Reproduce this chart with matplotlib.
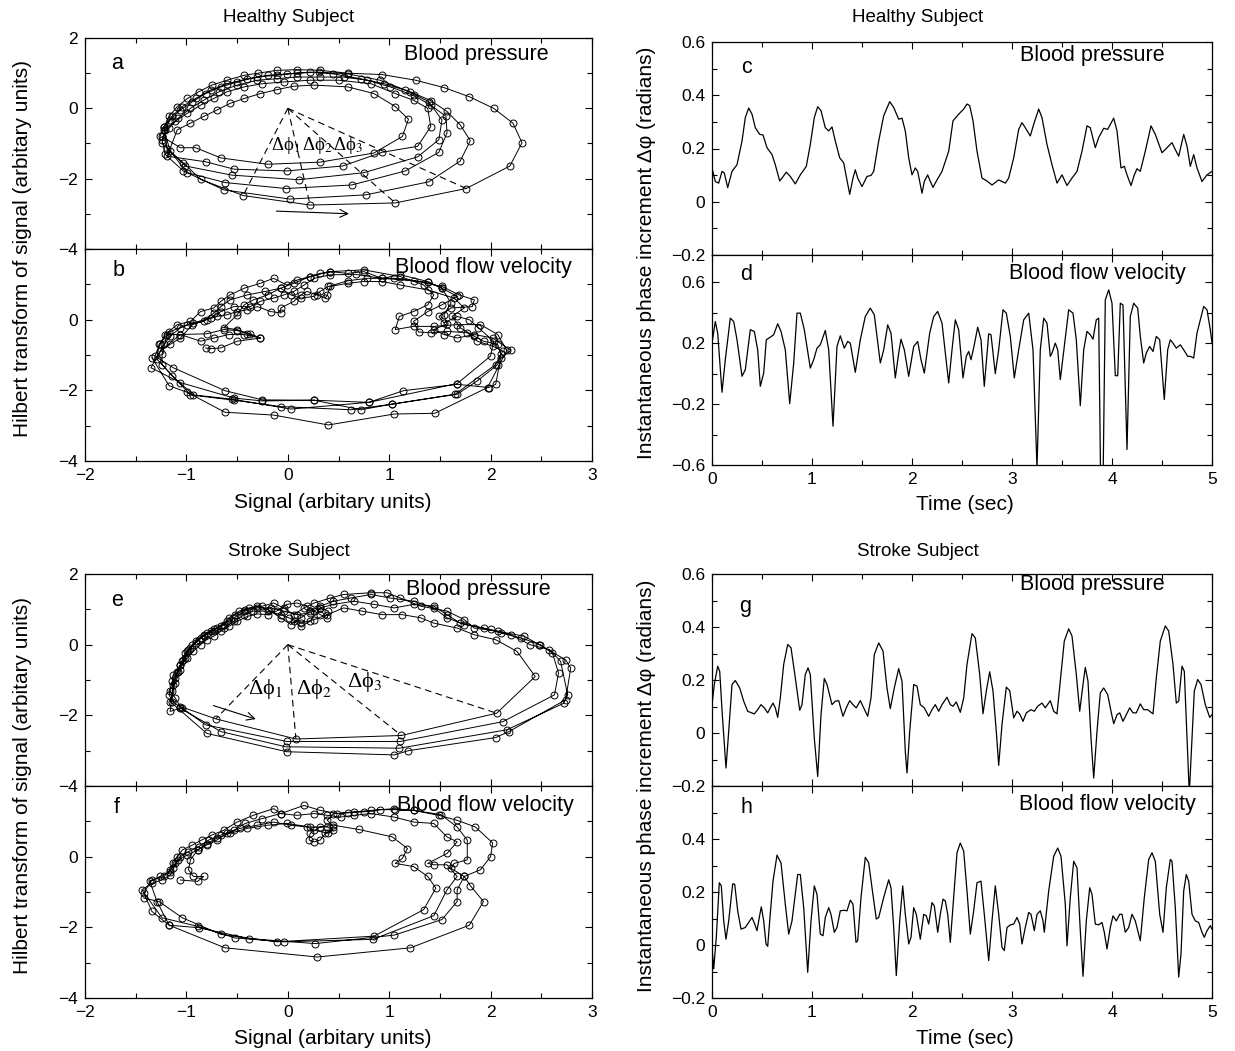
import matplotlib
matplotlib.use("Agg")
import matplotlib.pyplot as plt
from matplotlib.ticker import MultipleLocator, FuncFormatter

plt.rcParams['font.family'] = ['Liberation Sans', 'DejaVu Sans']
plt.rcParams['mathtext.fontset'] = 'stix'

# ---- phase increment time series (time sec, radians) ----
c_series = [(0.00,0.127),(0.033,0.076),(0.067,0.070),(0.10,0.114),(0.123,0.108),(0.157,0.053),(0.20,0.114),(0.25,0.139),(0.30,0.228),(0.333,0.316),
            (0.367,0.352),(0.40,0.329),(0.433,0.278),(0.477,0.253),(0.51,0.251),(0.55,0.203),(0.60,0.177),(0.633,0.139),(0.677,0.078),(0.70,0.089),
            (0.743,0.111),(0.783,0.095),(0.833,0.067),(0.883,0.101),(0.943,0.133),(0.983,0.215),(1.023,0.316),(1.057,0.357),(1.09,0.342),(1.133,0.278),
            (1.167,0.266),(1.20,0.281),(1.233,0.228),(1.277,0.165),(1.317,0.146),(1.377,0.028),(1.41,0.089),(1.433,0.120),(1.457,0.089),(1.50,0.057),
            (1.55,0.095),(1.59,0.099),(1.617,0.114),(1.667,0.228),(1.717,0.323),(1.777,0.376),(1.817,0.354),(1.867,0.310),(1.90,0.314),(1.933,0.266),
            (1.967,0.165),(2.00,0.101),(2.033,0.127),(2.057,0.114),(2.10,0.032),(2.123,0.076),(2.157,0.101),(2.183,0.076),(2.21,0.054),(2.25,0.082),
            (2.30,0.114),(2.367,0.190),(2.41,0.304),(2.467,0.329),(2.517,0.348),(2.55,0.367),(2.577,0.361),(2.61,0.304),(2.65,0.190),(2.70,0.089),
            (2.75,0.078),(2.80,0.063),(2.867,0.082),(2.933,0.070),(2.967,0.089),(3.017,0.165),(3.067,0.272),(3.10,0.297),(3.133,0.278),(3.183,0.247),
            (3.217,0.291),(3.267,0.348),(3.30,0.316),(3.35,0.215),(3.40,0.139),(3.45,0.070),(3.50,0.101),(3.55,0.061),(3.60,0.089),(3.65,0.114),
            (3.70,0.190),(3.75,0.285),(3.783,0.278),(3.833,0.203),(3.867,0.241),(3.917,0.276),(3.957,0.272),(4.017,0.314),(4.05,0.266),(4.09,0.127),
            (4.123,0.133),(4.15,0.101),(4.19,0.061),(4.223,0.101),(4.25,0.124),(4.283,0.114),(4.333,0.190),(4.39,0.285),(4.433,0.253),(4.50,0.184),
            (4.55,0.203),(4.60,0.222),(4.633,0.196),(4.667,0.171),(4.717,0.253),(4.75,0.209),(4.783,0.133),(4.817,0.177),(4.85,0.127),(4.90,0.076),
            (4.95,0.101),(5.00,0.114)]

d_series = [(0.0,0.201),(0.033,0.343),(0.057,0.267),(0.10,-0.122),(0.133,0.092),(0.183,0.365),(0.217,0.343),(0.25,0.223),(0.30,-0.017),(0.333,0.026),
            (0.383,0.289),(0.423,0.278),(0.457,0.157),(0.483,-0.083),(0.517,0.004),(0.543,0.223),(0.583,0.240),(0.617,0.256),(0.657,0.328),(0.69,0.278),
            (0.733,0.157),(0.777,-0.197),(0.817,0.070),(0.85,0.398),(0.883,0.398),(0.923,0.289),(0.983,0.037),(1.017,0.092),(1.05,0.168),(1.083,0.190),
            (1.133,0.284),(1.167,0.157),(1.21,-0.345),(1.25,0.179),(1.283,0.249),(1.323,0.168),(1.357,0.212),(1.383,0.201),(1.433,0.009),(1.483,0.223),
            (1.533,0.376),(1.583,0.431),(1.623,0.387),(1.683,0.070),(1.717,0.157),(1.757,0.321),(1.79,0.267),(1.833,-0.028),(1.867,0.136),(1.89,0.227),
            (1.923,0.157),(1.967,-0.017),(2.017,0.179),(2.057,0.212),(2.09,0.092),(2.123,0.004),(2.177,0.267),(2.217,0.376),(2.257,0.409),(2.30,0.332),
            (2.367,-0.061),(2.40,0.157),(2.433,0.354),(2.467,0.289),(2.51,-0.028),(2.543,0.114),(2.567,0.146),(2.59,0.092),(2.623,0.190),(2.657,0.306),
            (2.69,0.223),(2.723,-0.083),(2.767,0.262),(2.79,0.256),(2.833,0.0),(2.867,0.157),(2.91,0.420),(2.943,0.398),(2.983,0.245),(3.023,-0.028),
            (3.067,0.157),(3.117,0.354),(3.167,0.398),(3.21,0.157),(3.25,-0.62),(3.283,0.157),(3.317,0.365),(3.35,0.332),(3.383,0.114),(3.40,0.136),
            (3.433,0.201),(3.457,0.157),(3.483,-0.039),(3.523,0.179),(3.567,0.420),(3.61,0.398),(3.643,0.223),(3.683,-0.210),(3.717,0.157),(3.75,0.278),
            (3.783,0.256),(3.81,0.227),(3.843,0.354),(3.867,0.365),(3.887,-0.75),(3.91,-0.75),(3.933,0.485),(3.967,0.551),(4.00,0.463),(4.033,-0.013),
            (4.057,-0.013),(4.083,0.463),(4.11,0.452),(4.15,-0.498),(4.183,0.376),(4.217,0.463),(4.257,0.431),(4.283,0.245),(4.317,0.070),(4.343,0.136),
            (4.377,0.179),(4.41,0.146),(4.443,0.245),(4.477,0.223),(4.523,-0.170),(4.557,0.157),(4.583,0.223),(4.61,0.201),(4.643,0.168),(4.683,0.190),
            (4.717,0.157),(4.757,0.114),(4.783,0.114),(4.817,0.103),(4.85,0.267),(4.917,0.442),(4.95,0.420),(4.983,0.289),(5.0,0.201)]

g_series = [(0.0,0.107),(0.023,0.183),(0.057,0.252),(0.077,0.233),(0.103,0.069),(0.14,-0.132),(0.167,0.006),(0.20,0.183),(0.233,0.198),(0.277,0.170),
            (0.317,0.120),(0.357,0.082),(0.423,0.072),(0.457,0.088),(0.49,0.107),(0.523,0.095),(0.557,0.076),(0.583,0.095),(0.61,0.113),(0.633,0.095),
            (0.657,0.059),(0.683,0.132),(0.717,0.259),(0.757,0.334),(0.79,0.322),(0.833,0.208),(0.877,0.086),(0.90,0.107),(0.933,0.221),(0.96,0.246),
            (0.983,0.221),(1.023,-0.019),(1.057,-0.164),(1.09,0.069),(1.123,0.206),(1.15,0.183),(1.20,0.107),(1.233,0.120),(1.267,0.122),(1.31,0.063),
            (1.343,0.095),(1.377,0.122),(1.41,0.107),(1.443,0.095),(1.483,0.122),(1.517,0.095),(1.557,0.063),(1.59,0.132),(1.623,0.296),(1.667,0.340),
            (1.71,0.309),(1.75,0.170),(1.783,0.092),(1.823,0.170),(1.867,0.243),(1.90,0.195),(1.933,-0.069),(1.95,-0.151),(1.977,0.006),(2.017,0.183),
            (2.05,0.177),(2.083,0.107),(2.123,0.095),(2.167,0.063),(2.20,0.088),(2.233,0.107),(2.267,0.082),(2.30,0.107),(2.35,0.135),(2.383,0.107),
            (2.41,0.101),(2.443,0.117),(2.483,0.078),(2.517,0.132),(2.55,0.259),(2.60,0.375),(2.633,0.359),(2.677,0.221),(2.71,0.073),(2.743,0.158),
            (2.777,0.231),(2.81,0.158),(2.843,0.006),(2.867,-0.122),(2.90,0.032),(2.943,0.173),(2.977,0.160),(3.017,0.057),(3.05,0.082),(3.077,0.072),
            (3.11,0.044),(3.143,0.076),(3.19,0.088),(3.223,0.082),(3.257,0.101),(3.30,0.113),(3.333,0.095),(3.383,0.122),(3.417,0.082),(3.45,0.072),
            (3.483,0.195),(3.523,0.347),(3.567,0.393),(3.60,0.366),(3.643,0.221),(3.677,0.082),(3.71,0.183),(3.733,0.248),(3.76,0.195),(3.79,-0.019),
            (3.817,-0.170),(3.85,0.006),(3.883,0.151),(3.917,0.170),(3.957,0.145),(3.99,0.082),(4.017,0.035),(4.05,0.069),(4.077,0.076),(4.11,0.044),
            (4.143,0.069),(4.177,0.095),(4.21,0.076),(4.243,0.076),(4.283,0.110),(4.317,0.088),(4.357,0.088),(4.41,0.072),(4.443,0.208),(4.483,0.347),
            (4.533,0.404),(4.567,0.385),(4.61,0.259),(4.643,0.113),(4.667,0.120),(4.70,0.252),(4.723,0.233),(4.75,-0.019),(4.773,-0.23),(4.80,-0.019),
            (4.823,0.158),(4.857,0.202),(4.89,0.183),(4.933,0.107),(4.977,0.059),(5.0,0.069)]

h_series = [(0.0,-0.009),(0.017,-0.090),(0.043,0.029),(0.073,0.235),(0.093,0.223),(0.117,0.091),(0.14,0.022),(0.167,0.091),(0.207,0.231),(0.227,0.229),
            (0.257,0.129),(0.29,0.060),(0.333,0.066),(0.377,0.091),(0.40,0.104),(0.427,0.079),(0.45,0.054),(0.473,0.104),(0.493,0.144),(0.517,0.091),
            (0.54,0.004),(0.557,-0.005),(0.577,0.091),(0.61,0.241),(0.65,0.339),(0.69,0.310),(0.733,0.154),(0.767,0.041),(0.80,0.091),(0.857,0.266),
            (0.883,0.266),(0.917,0.141),(0.957,-0.103),(0.99,0.091),(1.023,0.223),(1.05,0.191),(1.083,0.041),(1.11,0.035),(1.133,0.104),(1.167,0.141),
            (1.19,0.116),(1.223,0.048),(1.25,0.066),(1.283,0.129),(1.317,0.131),(1.35,0.129),(1.383,0.169),(1.41,0.154),(1.44,0.010),(1.457,0.016),
            (1.49,0.179),(1.533,0.331),(1.567,0.310),(1.60,0.216),(1.643,0.098),(1.667,0.104),(1.717,0.179),(1.767,0.246),(1.79,0.216),(1.817,0.066),
            (1.843,-0.115),(1.877,0.091),(1.907,0.223),(1.933,0.116),(1.967,0.004),(1.99,0.029),(2.017,0.141),(2.043,0.116),(2.083,0.022),(2.117,0.116),
            (2.143,0.110),(2.167,0.079),(2.20,0.160),(2.223,0.148),(2.257,0.048),(2.283,0.116),(2.31,0.173),(2.333,0.166),(2.357,0.116),(2.383,0.010),
            (2.417,0.179),(2.45,0.348),(2.483,0.385),(2.517,0.354),(2.55,0.204),(2.583,0.041),(2.617,0.129),(2.65,0.235),(2.69,0.241),(2.723,0.116),
            (2.767,-0.059),(2.80,0.091),(2.833,0.223),(2.867,0.116),(2.90,-0.009),(2.923,-0.021),(2.95,0.066),(2.983,0.076),(3.017,0.079),(3.05,0.104),
            (3.077,0.079),(3.10,0.004),(3.133,0.066),(3.167,0.123),(3.19,0.116),(3.223,0.054),(3.25,0.116),(3.283,0.129),(3.31,0.091),(3.323,0.048),
            (3.367,0.204),(3.417,0.335),(3.457,0.366),(3.49,0.335),(3.533,0.154),(3.55,-0.003),(3.583,0.179),(3.617,0.316),(3.65,0.291),(3.683,0.054),
            (3.71,-0.118),(3.743,0.091),(3.777,0.216),(3.80,0.191),(3.833,0.079),(3.867,0.076),(3.90,0.085),(3.923,0.048),(3.95,-0.015),(3.983,0.066),
            (4.01,0.110),(4.043,0.091),(4.077,0.116),(4.10,0.116),(4.133,0.048),(4.167,0.066),(4.20,0.116),(4.233,0.091),(4.283,0.016),(4.323,0.179),
            (4.367,0.323),(4.40,0.348),(4.433,0.316),(4.477,0.116),(4.51,0.048),(4.543,0.216),(4.583,0.323),(4.60,0.316),(4.633,0.141),(4.667,-0.121),
            (4.69,-0.034),(4.717,0.204),(4.743,0.266),(4.767,0.241),(4.80,0.116),(4.833,0.091),(4.867,0.085),(4.90,0.048),(4.923,0.029),(4.95,0.054),
            (4.983,0.073),(5.0,0.060)]

# ---- phase portraits (signal, Hilbert transform), one list per cycle ----
a_loop1 = [(-1.24,-0.80),(-1.06,-1.12),(-0.91,-1.12),(-0.66,-1.41),(-0.20,-1.59),(0.32,-1.53),(0.85,-1.27),(1.13,-0.80),(1.19,-0.31),(1.06,0.05),
           (0.85,0.42),(0.59,0.61),(0.26,0.66),(0.06,0.63),(-0.11,0.53),(-0.27,0.42),(-0.43,0.28),(-0.57,0.14),(-0.70,-0.05),(-0.83,-0.23),
           (-0.96,-0.42),(-1.09,-0.61)]
a_loop2 = [(-1.19,-1.36),(-0.81,-1.52),(-0.53,-1.73),(-0.01,-1.78),(0.54,-1.64),(0.93,-1.25),(1.28,-1.08),(1.41,-0.52),(1.38,0.0),(1.24,0.23),
           (1.06,0.42),(0.82,0.70),(0.50,0.80),(0.22,0.80),(-0.04,0.75),(-0.25,0.70),(-0.43,0.61),(-0.60,0.47),(-0.73,0.28),(-0.86,0.09),
           (-0.99,-0.14),(-1.11,-0.37),(-1.21,-0.61),(-1.24,-0.98)]
a_loop3 = [(-1.01,-1.64),(-0.55,-1.90),(0.11,-2.03),(0.75,-1.83),(1.28,-1.38),(1.49,-0.89),(1.52,-0.33),(1.39,0.19),(1.16,0.52),(0.91,0.80),
           (0.59,0.98),(0.31,1.03),(0.09,1.00),(-0.11,0.94),(-0.30,0.89),(-0.50,0.75),(-0.66,0.61),(-0.81,0.42),(-0.94,0.19),(-1.06,-0.05),
           (-1.16,-0.33),(-1.22,-0.61)]
a_loop4 = [(-1.16,-1.22),(-0.99,-1.83),(-0.62,-2.11),(-0.02,-2.28),(0.63,-2.18),(1.16,-1.78),(1.49,-1.25),(1.57,-0.70),(1.56,-0.23),(1.41,0.09),
           (1.24,0.37),(1.01,0.61),(0.78,0.80),(0.55,0.89),(0.32,0.89),(0.09,0.89),(-0.11,0.84),(-0.30,0.80),(-0.50,0.66),(-0.68,0.47),
           (-0.83,0.23),(-0.96,0.00),(-1.08,-0.28),(-1.17,-0.56),(-1.24,-0.89)]
a_loop5 = [(-1.21,-1.31),(-1.03,-1.78),(-0.63,-2.32),(0.02,-2.58),(0.77,-2.46),(1.39,-2.09),(1.70,-1.50),(1.80,-0.92),(1.70,-0.47),(1.57,-0.09),
           (1.41,0.22),(1.21,0.47),(0.95,0.70),(0.72,0.84),(0.45,0.98),(0.22,1.03),(-0.01,0.98),(-0.20,0.94),(-0.40,0.84),(-0.60,0.70),
           (-0.76,0.52),(-0.91,0.28),(-1.04,0.05),(-1.14,-0.22),(-1.22,-0.52)]
a_loop6 = [(-1.19,-1.17),(-1.03,-1.55),(-0.86,-2.02),(-0.44,-2.48),(0.22,-2.75),(1.06,-2.69),(1.76,-2.28),(2.19,-1.64),(2.31,-0.98),(2.22,-0.42),
           (2.03,0.00),(1.79,0.33),(1.54,0.59),(1.26,0.80),(0.93,0.96),(0.59,1.00),(0.32,1.08),(0.09,1.10),(-0.11,1.08),(-0.29,1.00),
           (-0.43,0.94),(-0.60,0.80),(-0.75,0.66),(-0.88,0.47),(-0.99,0.28),(-1.09,0.05),(-1.17,-0.23),(-1.22,-0.52),(-1.26,-0.80)]
a_rays = [3, 4, 5, 6]   # points of the last cycle joined to the origin

b_loop1 = [(-1.34,-1.08),(-1.17,-1.87),(-0.99,-2.06),(-0.62,-2.62),(-0.14,-2.70),(0.40,-2.98),(1.05,-2.67),(1.45,-2.65),(1.97,-1.92),(2.16,-0.87),
           (2.07,-0.42),(1.90,-0.14),(1.67,-0.14),(1.44,-0.19),(1.24,-0.19),(1.06,-0.28),(1.10,0.09),(1.24,0.23),(1.38,0.42),(1.44,0.70),
           (1.34,0.98),(1.11,1.22),(0.75,1.41),(0.42,1.36),(0.22,1.22),(0.06,1.03),(-0.07,0.89),(-0.22,0.80),(-0.40,0.70),(-0.57,0.56),
           (-0.66,0.37),(-0.73,0.19),(-0.83,-0.05),(-0.99,-0.14),(-1.17,-0.35),(-1.27,-0.70)]
b_loop2 = [(-1.29,-1.12),(-0.96,-2.13),(-0.53,-2.28),(-0.07,-2.46),(0.62,-2.55),(1.03,-2.39),(1.65,-2.11),(2.05,-1.27),(2.12,-0.89),(2.02,-0.75),
           (1.87,-0.61),(1.77,-0.37),(1.57,-0.33),(1.41,-0.37),(1.29,-0.35),(1.24,-0.05),(1.38,0.23),(1.52,0.42),(1.67,0.66),(1.52,0.89),
           (1.38,1.06),(1.05,1.17),(0.78,1.17),(0.59,1.10),(0.40,0.94),(0.32,0.80),(0.26,0.66),(0.13,0.61),(0.03,0.70),(-0.07,0.89),
           (-0.20,0.70),(-0.34,0.56),(-0.43,0.42),(-0.50,0.14),(-0.63,-0.23),(-0.50,-0.28),(-0.40,-0.40),(-0.27,-0.52),(-0.43,-0.42),(-0.58,-0.42),
           (-0.73,-0.52),(-0.86,-0.61),(-1.06,-0.42),(-1.19,-0.42),(-1.24,-0.98)]
b_loop3 = [(-1.24,-1.27),(-1.14,-1.59),(-0.93,-2.13),(-0.55,-2.25),(0.03,-2.53),(0.80,-2.34),(1.67,-1.81),(2.00,-1.03),(2.03,-0.61),(1.88,-0.23),
           (1.79,0.0),(1.67,0.09),(1.54,-0.09),(1.49,0.09),(1.61,0.33),(1.82,0.37),(1.84,0.56),(1.69,0.70),(1.52,0.94),(1.24,1.10),
           (0.93,1.17),(0.67,1.28),(0.42,1.27),(0.26,1.17),(0.16,0.98),(0.06,0.80),(-0.04,0.70),(-0.14,0.61),(-0.27,0.52),(-0.37,0.37),
           (-0.53,0.37),(-0.66,0.23),(-0.76,0.05),(-0.93,-0.09),(-1.06,-0.23),(-1.16,-0.47),(-1.22,-0.70)]
b_loop4 = [(-1.35,-1.36),(-1.06,-1.78),(-0.53,-2.22),(-0.25,-2.30),(0.26,-2.28),(0.80,-2.34),(1.14,-2.01),(1.67,-1.83),(1.98,-1.92),(2.05,-1.83),
           (2.10,-1.08),(2.20,-0.87),(2.02,-0.52),(1.84,-0.42),(1.67,-0.52),(1.54,-0.42),(1.44,-0.28),(1.57,-0.12),(1.54,0.14),(1.61,0.47),
           (1.52,0.89),(1.38,1.08),(1.11,1.27),(0.93,1.17),(0.75,1.36),(0.59,1.31),(0.42,1.36),(0.32,1.31),(0.22,1.22),(0.09,1.12),
           (-0.01,0.98),(-0.14,1.17),(-0.27,1.03),(-0.43,0.89),(-0.57,0.70),(-0.66,0.52),(-0.73,0.33),(-0.86,0.23),(-0.96,-0.05),(-1.09,-0.14),
           (-1.21,-0.42),(-1.26,-0.70)]
b_loop5 = [(-1.31,-1.03),(-1.13,-1.36),(-0.62,-2.01),(-0.25,-2.27),(0.26,-2.28),(0.72,-2.55),(1.03,-2.39),(1.67,-2.11),(1.87,-1.73),(2.07,-1.27),
           (2.10,-0.98),(2.07,-0.70),(1.93,-0.61),(1.84,-0.47),(1.70,-0.23),(1.62,0.09),(1.74,0.33),(1.64,0.61),(1.38,0.84),(1.11,0.98),
           (0.93,1.08),(0.75,1.08),(0.59,1.03),(0.42,0.94),(0.39,0.70),(0.37,0.61),(0.29,0.70),(0.19,0.80),(0.13,0.70),(0.06,0.52),
           (-0.07,0.33),(-0.07,0.19),(-0.17,0.23),(-0.30,0.37),(-0.40,0.28),(-0.50,0.23),(-0.60,0.14),(-0.70,0.09),(-0.80,0.0),(-0.94,-0.14),
           (-1.06,-0.52),(-1.16,-0.70),(-1.26,-0.89)]
b_hook = [(-1.06,-0.42),(-0.80,-0.40),(-0.63,-0.28),(-0.50,-0.31),(-0.37,-0.40),(-0.27,-0.52),(-0.50,-0.61),(-0.66,-0.80),(-0.76,-0.82),(-0.81,-0.80)]

e_loop1 = [(-1.16,-1.32),(-1.11,-1.51),(-1.06,-1.75),(-0.71,-2.10),(0.08,-2.67),(1.12,-2.57),(2.06,-1.94),(2.44,-0.90),(2.26,-0.19),(2.05,0.14),
           (1.84,0.28),(1.67,0.47),(1.44,0.61),(1.31,0.76),(1.13,0.85),(0.93,0.85),(0.73,0.95),(0.55,1.04),(0.39,0.85),(0.26,0.71),
           (0.13,0.61),(0.01,0.76),(-0.07,0.85),(-0.20,0.95),(-0.34,0.95),(-0.43,0.85),(-0.53,0.66),(-0.63,0.47),(-0.73,0.38),(-0.83,0.24),
           (-0.91,0.05),(-0.99,-0.19),(-1.04,-0.47),(-1.09,-0.76),(-1.14,-1.04)]
e_rays = [3, 4, 5, 6]
e_loop2 = [(-1.17,-1.42),(-1.14,-1.61),(-1.04,-1.80),(-0.81,-2.27),(-0.01,-2.74),(1.11,-2.74),(2.12,-2.18),(2.63,-1.42),(2.67,-0.80),(2.61,-0.24),
           (2.49,0.0),(2.30,0.19),(2.10,0.33),(1.93,0.47),(1.70,0.61),(1.57,0.85),(1.44,1.09),(1.24,1.14),(1.05,1.04),(0.85,1.14),
           (0.65,1.23),(0.45,1.14),(0.32,1.04),(0.22,0.90),(0.09,0.85),(-0.04,0.95),(-0.17,1.04),(-0.30,1.04),(-0.43,0.95),(-0.53,0.76),
           (-0.63,0.57),(-0.73,0.43),(-0.83,0.28),(-0.91,0.09),(-0.98,-0.14),(-1.03,-0.43),(-1.08,-0.76),(-1.13,-1.14)]
e_loop3 = [(-1.16,-1.89),(-1.06,-1.80),(-0.66,-2.46),(-0.02,-2.89),(1.10,-2.93),(2.16,-2.41),(2.72,-1.66),(2.76,-1.42),(2.69,-0.47),(2.58,-0.14),
           (2.39,0.0),(2.20,0.28),(2.00,0.43),(1.74,0.57),(1.57,0.76),(1.44,1.04),(1.24,1.23),(1.01,1.32),(0.82,1.42),(0.62,1.32),
           (0.45,1.23),(0.32,1.09),(0.22,0.95),(0.13,0.76),(0.03,0.57),(-0.07,0.76),(-0.19,0.99),(-0.30,1.09),(-0.42,0.99),(-0.52,0.85),
           (-0.60,0.66),(-0.70,0.47),(-0.80,0.33),(-0.88,0.14),(-0.96,-0.09),(-1.01,-0.38),(-1.06,-0.71),(-1.11,-1.09)]
e_loop4 = [(-1.16,-1.61),(-0.80,-2.51),(-0.01,-3.03),(1.05,-3.12),(1.19,-3.00),(2.05,-2.63),(2.18,-2.46),(2.74,-1.56),(2.79,-0.66),(2.74,-0.43),
           (2.48,0.0),(2.33,0.24),(2.07,0.38),(1.84,0.47),(1.74,0.71),(1.57,0.95),(1.31,1.09),(1.11,1.32),(0.98,1.47),(0.82,1.47),
           (0.55,1.42),(0.42,1.32),(0.26,1.18),(0.16,1.04),(0.06,0.85),(-0.04,1.04),(-0.14,1.18),(-0.25,1.09),(-0.38,1.04),(-0.48,0.95),
           (-0.58,0.76),(-0.66,0.52),(-0.76,0.38),(-0.86,0.19),(-0.94,0.0),(-1.01,-0.24),(-1.06,-0.57),(-1.11,-0.95),(-1.14,-1.32)]
e_loop5 = [(-1.13,-0.85),(-1.06,-0.57),(-0.99,-0.38),(-0.93,-0.19),(-0.86,0.0),(-0.80,0.14),(-0.73,0.24),(-0.66,0.38),(-0.58,0.52),(-0.50,0.66),
           (-0.40,0.80),(-0.30,0.87),(-0.20,0.85),(-0.11,0.95),(-0.01,1.14),(0.09,1.18),(0.19,1.09),(0.26,0.95),(0.32,0.85),(0.39,0.76),
           (0.40,0.95),(0.32,1.04),(0.22,0.66),(0.13,0.52),(0.06,0.66)]

f_loop1 = [(-1.42,-1.17),(-1.27,-1.27),(-1.04,-1.73),(-0.66,-2.20),(-0.11,-2.41),(0.85,-2.25),(1.34,-1.50),(1.46,-0.89),(1.38,-0.56),(1.24,-0.28),
           (1.06,-0.19),(1.13,-0.05),(1.18,0.23),(1.03,0.56),(0.70,0.77),(0.45,0.89),(0.32,0.84),(0.22,0.66),(0.21,0.47),(0.26,0.42),
           (0.32,0.47),(0.37,0.66),(0.45,0.75),(0.39,0.84),(0.22,0.84),(-0.01,0.94),(-0.20,0.89),(-0.40,0.80),(-0.57,0.66),(-0.70,0.52),
           (-0.80,0.37),(-0.89,0.19),(-0.99,0.05),(-1.08,-0.09),(-1.13,-0.33),(-1.16,-0.52),(-1.24,-0.66),(-1.34,-0.75)]
f_loop2 = [(-1.44,-0.94),(-1.24,-1.73),(-0.89,-1.97),(-0.52,-2.30),(-0.04,-2.41),(0.84,-2.34),(1.44,-1.67),(1.57,-0.94),(1.67,-0.56),(1.57,-0.23),
           (1.44,-0.23),(1.38,-0.19),(1.57,0.09),(1.67,0.42),(1.57,0.56),(1.44,0.94),(1.24,0.98),(1.05,1.12),(0.82,1.22),(0.65,1.17),
           (0.52,1.12),(0.39,1.17),(0.26,1.22),(0.09,1.17),(-0.07,1.22),(-0.25,1.08),(-0.42,0.94),(-0.53,0.75),(-0.66,0.61),(-0.78,0.47),
           (-0.88,0.28),(-0.98,0.14),(-1.06,0.0),(-1.11,-0.19),(-1.16,-0.37),(-1.22,-0.56),(-1.34,-0.66)]
f_loop3 = [(-1.42,-1.03),(-1.34,-1.55),(-1.17,-1.94),(-0.88,-2.01),(-0.38,-2.32),(0.27,-2.46),(1.05,-2.22),(1.52,-1.78),(1.67,-1.27),(1.67,-0.94),
           (1.74,-0.56),(1.61,-0.33),(1.64,-0.19),(1.77,-0.09),(1.77,0.47),(1.67,0.84),(1.51,1.19),(1.24,1.31),(1.05,1.36),(0.82,1.31),
           (0.65,1.27),(0.49,1.22),(0.32,1.31),(0.16,1.45),(-0.07,1.22),(-0.14,1.36),(-0.34,1.17),(-0.50,0.98),(-0.63,0.75),(-0.75,0.61),
           (-0.85,0.47),(-0.94,0.33),(-1.04,0.19),(-1.09,0.0),(-1.13,-0.19),(-1.16,-0.42),(-1.26,-0.56),(-1.36,-0.70)]
f_loop4 = [(-1.29,-1.27),(-1.17,-1.94),(-0.62,-2.58),(0.29,-2.84),(1.21,-2.58),(1.79,-1.94),(1.93,-1.27),(1.80,-0.82),(1.74,-0.56),(1.90,-0.37),
           (2.00,0.0),(2.02,0.39),(1.85,0.84),(1.67,1.03),(1.49,1.17),(1.24,1.31),(1.06,1.33),(0.91,1.33),(0.75,1.27),(0.59,1.24),
           (0.45,1.22),(0.39,1.03),(0.45,0.84),(0.40,0.66),(0.26,0.75),(0.19,0.84),(0.03,0.89),(-0.14,0.98),(-0.30,0.89),(-0.47,0.80),
           (-0.60,0.66),(-0.70,0.47),(-0.80,0.33),(-0.89,0.19),(-0.96,-0.09),(-0.98,-0.37),(-0.93,-0.56),(-0.83,-0.56),(-0.89,-0.70),(-1.06,-0.66)]

W, H = 1235.0, 1051.0


def box(left, top, right, bottom):
    return [left / W, 1 - bottom / H, (right - left) / W, (bottom - top) / H]


def fmt(v, pos):
    if abs(v) < 1e-9:
        return '0'
    return ('%g' % v).replace('-', '\u2212')


def style(ax, xmaj, xmin, show_x):
    ax.xaxis.set_major_locator(MultipleLocator(xmaj))
    ax.xaxis.set_minor_locator(MultipleLocator(xmin))
    ax.xaxis.set_major_formatter(FuncFormatter(fmt))
    ax.yaxis.set_major_formatter(FuncFormatter(fmt))
    ax.tick_params(which='both', direction='in', top=True, right=True, width=0.8,
                   labelsize=12.5, labelbottom=show_x, pad=5)
    ax.tick_params(which='major', length=5)
    ax.tick_params(which='minor', length=3.5)
    for s in ax.spines.values():
        s.set_linewidth(0.9)


fig = plt.figure(figsize=(12.35, 10.51), dpi=100)

ax_a = fig.add_axes(box(85, 38, 592, 249))
ax_b = fig.add_axes(box(85, 249, 592, 461))
ax_c = fig.add_axes(box(712, 42, 1212, 255))
ax_d = fig.add_axes(box(712, 255, 1212, 465))
ax_e = fig.add_axes(box(85, 574, 592, 786))
ax_f = fig.add_axes(box(85, 786, 592, 998))
ax_g = fig.add_axes(box(712, 574, 1212, 786))
ax_h = fig.add_axes(box(712, 786, 1212, 998))

mk = dict(color='black', lw=0.7, marker='o', ms=5, mfc='none', mec='black', mew=0.7)


def portrait(ax, loops):
    xs, ys = [], []
    for lp in loops:
        for x, y in lp:
            xs.append(x)
            ys.append(y)
    ax.plot(xs, ys, **mk)
    ax.set_xlim(-2, 3)
    ax.set_ylim(-4, 2)


portrait(ax_a, [a_loop1, a_loop2, a_loop3, a_loop4, a_loop5, a_loop6])
portrait(ax_b, [b_loop1, b_loop2, b_loop3, b_loop4, b_loop5, b_hook])
portrait(ax_e, [e_loop1, e_loop2, e_loop3, e_loop4, e_loop5])
portrait(ax_f, [f_loop1, f_loop2, f_loop3, f_loop4])

for ax, lp, idx in [(ax_a, a_loop6, a_rays), (ax_e, e_loop1, e_rays)]:
    for i in idx:
        ax.plot([0, lp[i][0]], [0, lp[i][1]], color='black', lw=0.8, ls=(0, (6, 4)))

serif = ['Liberation Serif', 'DejaVu Serif']
phi = '\u0394\u03d5'
for ax, size, pos in [(ax_a, 13.5, [(-0.17, -1.05), (0.14, -1.05), (0.45, -1.05)]),
                      (ax_e, 16, [(-0.39, -1.25), (0.08, -1.25), (0.58, -1.05)])]:
    for k, (x, y) in enumerate(pos):
        ax.text(x, y, phi + '$_{%d}$' % (k + 1), fontsize=size, va='center', ha='left', family=serif)

ax_a.annotate('', xy=(0.63, -3.0), xytext=(-0.14, -2.92),
              arrowprops=dict(arrowstyle='->', lw=0.8, color='black', mutation_scale=14))
ax_e.annotate('', xy=(-0.29, -2.13), xytext=(-0.76, -1.70),
              arrowprops=dict(arrowstyle='->', lw=0.8, color='black', mutation_scale=14))

for ax, ser in [(ax_c, c_series), (ax_d, d_series), (ax_g, g_series), (ax_h, h_series)]:
    t, v = zip(*ser)
    ax.plot(t, v, color='black', lw=0.9)
    ax.set_xlim(0, 5)

ax_c.set_ylim(-0.2, 0.6)
ax_d.set_ylim(-0.6, 0.78)
ax_g.set_ylim(-0.2, 0.6)
ax_h.set_ylim(-0.2, 0.6)

for ax, show in [(ax_a, False), (ax_b, True), (ax_e, False), (ax_f, True)]:
    style(ax, 1, 0.5, show)
    ax.yaxis.set_minor_locator(MultipleLocator(1))
ax_a.set_yticks([-4, -2, 0, 2])
ax_e.set_yticks([-4, -2, 0, 2])
ax_b.set_yticks([-4, -2, 0])
ax_f.set_yticks([-4, -2, 0])

for ax, show in [(ax_c, False), (ax_d, True), (ax_g, False), (ax_h, True)]:
    style(ax, 1, 0.5, show)
for ax in (ax_c, ax_g):
    ax.set_yticks([-0.2, 0, 0.2, 0.4, 0.6])
    ax.yaxis.set_minor_locator(MultipleLocator(0.1))
ax_d.set_yticks([-0.6, -0.2, 0.2, 0.6])
ax_d.set_yticks([-0.4, 0, 0.4], minor=True)
ax_h.set_yticks([-0.2, 0, 0.2, 0.4])
ax_h.set_yticks([-0.1, 0.1, 0.3, 0.5], minor=True)
for ax in (ax_a, ax_b, ax_c, ax_d, ax_e, ax_f, ax_g, ax_h):
    ax.tick_params(which='minor', labelleft=False)

lab = dict(fontsize=15.5)
panel_text = [(ax_a, 'a', 0.063, 0.88, 'Blood pressure', 0.772, 0.92),
              (ax_b, 'b', 0.067, 0.90, 'Blood flow velocity', 0.785, 0.915),
              (ax_c, 'c', 0.069, 0.88, 'Blood pressure', 0.76, 0.935),
              (ax_d, 'd', 0.069, 0.905, 'Blood flow velocity', 0.77, 0.91),
              (ax_e, 'e', 0.063, 0.877, 'Blood pressure', 0.775, 0.925),
              (ax_f, 'f', 0.063, 0.90, 'Blood flow velocity', 0.79, 0.91),
              (ax_g, 'g', 0.066, 0.845, 'Blood pressure', 0.76, 0.95),
              (ax_h, 'h', 0.069, 0.90, 'Blood flow velocity', 0.79, 0.915)]
for ax, letter, lx, ly, name, nx, ny in panel_text:
    ax.text(lx, ly, letter, transform=ax.transAxes, ha='center', va='center', **lab)
    ax.text(nx, ny, name, transform=ax.transAxes, ha='center', va='center', **lab)

tt = dict(fontsize=13.5, ha='center', va='center')
fig.text(289 / W, 1 - 18 / H, 'Healthy Subject', **tt)
fig.text(918 / W, 1 - 18 / H, 'Healthy Subject', **tt)
fig.text(289 / W, 1 - 552 / H, 'Stroke Subject', **tt)
fig.text(918 / W, 1 - 552 / H, 'Stroke Subject', **tt)

tl = dict(fontsize=15, ha='center', va='center')
fig.text(333 / W, 1 - 502 / H, 'Signal (arbitary units)', **tl)
fig.text(333 / W, 1 - 1038 / H, 'Signal (arbitary units)', **tl)
fig.text(965 / W, 1 - 504 / H, 'Time (sec)', **tl)
fig.text(965 / W, 1 - 1039 / H, 'Time (sec)', **tl)

fig.text(23 / W, 1 - 249 / H, 'Hilbert transform of signal (arbitary units)', rotation=90, **tl)
fig.text(23 / W, 1 - 786 / H, 'Hilbert transform of signal (arbitary units)', rotation=90, **tl)
fig.text(646 / W, 1 - 253 / H, 'Instantaneous phase increment \u0394\u03c6 (radians)', rotation=90, **tl)
fig.text(646 / W, 1 - 786 / H, 'Instantaneous phase increment \u0394\u03c6 (radians)', rotation=90, **tl)

fig.savefig('out.png', dpi=100)
